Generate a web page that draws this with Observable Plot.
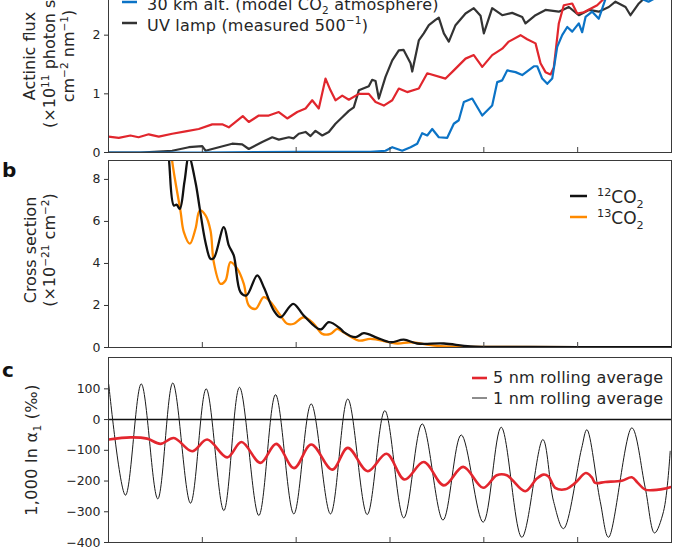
<!DOCTYPE html>
<html>
<head>
<meta charset="utf-8">
<script src="https://cdn.jsdelivr.net/npm/d3@7"></script>
<script src="https://cdn.jsdelivr.net/npm/@observablehq/plot@0.6"></script>
<style>
  body { margin: 0; background: #fff; }
  #fig { position: relative; width: 685px; height: 550px; overflow: hidden; background: #fff; }
  #fig svg { position: absolute; left: 0; }
</style>
</head>
<body>
<div id="fig"></div>
<script>
// ---------- shared x (wavelength, nm) ----------
const xDomain = [170, 230];
const xTicks = [180, 190, 200, 210, 220];

// ---------- panel a: actinic flux (x10^11 photon s^-1 cm^-2 nm^-1) ----------
const fluxTicks = [0, 1, 2];
const surfaceNm = [170.0, 171.1, 172.34, 173.2, 174.29, 175.36, 176.79, 178.21, 179.62, 181.05, 182.12, 182.82, 184.31, 184.95, 186.02, 187.08, 188.15, 189.05, 190.11, 191.0, 191.71, 192.41, 193.13, 193.66, 194.19, 194.91, 195.61, 196.68, 197.74, 198.46, 199.34, 200.24, 200.94, 201.83, 203.07, 203.97, 205.92, 206.8, 208.05, 208.93, 209.83, 210.89, 211.96, 212.66, 213.91, 214.62, 215.51, 216.04, 216.57, 217.11, 217.46, 217.99, 218.52, 219.42, 219.95, 220.66, 222.08, 222.79, 223.71, 225.63, 227.76, 230];
const surfaceFlux = [0.27, 0.25, 0.29, 0.26, 0.31, 0.27, 0.32, 0.36, 0.40, 0.48, 0.48, 0.43, 0.62, 0.52, 0.63, 0.63, 0.69, 0.58, 0.69, 0.75, 0.89, 0.75, 1.26, 1.06, 0.89, 0.97, 0.90, 1.00, 1.00, 0.86, 0.80, 0.89, 1.09, 1.03, 1.09, 1.35, 1.26, 1.40, 1.60, 1.66, 1.46, 1.66, 1.77, 1.89, 2.00, 1.93, 1.86, 1.52, 1.37, 1.33, 1.45, 2.20, 2.51, 2.54, 2.37, 2.39, 2.51, 2.62, 2.75, 2.85, 2.92, 2.97];
const km30Nm = [170, 179.8, 190.46, 197.92, 199.52, 200.24, 201.3, 202.19, 202.9, 203.43, 203.97, 204.5, 205.2, 206.1, 206.8, 207.33, 207.87, 208.76, 209.83, 210.89, 211.43, 211.96, 212.49, 213.38, 214.09, 215.33, 215.69, 216.22, 216.76, 217.29, 217.82, 218.35, 218.89, 219.42, 220.12, 220.48, 220.84, 221.55, 222.25, 222.97, 224.03, 225.63, 227.55, 228.83, 230];
const km30Flux = [0, 0, 0.01, 0.01, 0.03, 0.09, 0.03, 0.09, 0.15, 0.33, 0.29, 0.40, 0.26, 0.25, 0.49, 0.55, 0.86, 0.92, 0.63, 0.80, 1.20, 1.23, 1.40, 1.37, 1.32, 1.47, 1.47, 1.26, 1.17, 1.26, 1.80, 2.00, 2.14, 2.06, 2.20, 2.05, 2.31, 2.40, 2.28, 2.62, 2.75, 2.70, 2.57, 2.68, 2.78];
const lampNm = [170, 173.41, 176.79, 178.56, 179.99, 180.34, 181.76, 183.18, 184.25, 184.95, 186.38, 187.45, 188.15, 189.22, 189.72, 190.28, 191.0, 191.53, 192.06, 192.78, 193.48, 194.19, 194.91, 195.61, 196.14, 196.68, 197.74, 198.1, 198.46, 198.81, 199.52, 200.24, 200.94, 201.44, 202.19, 202.37, 203.07, 203.6, 204.14, 204.85, 205.2, 205.74, 206.27, 206.98, 208.05, 208.93, 209.65, 210.0, 210.89, 211.96, 213.02, 214.09, 214.44, 215.51, 216.57, 217.99, 219.06, 220.12, 221.19, 222.25, 223.32, 224.03, 225.1, 225.63, 226.52, 227.05, 228.3, 230];
const lampFlux = [0, 0, 0.03, 0.09, 0.11, 0.03, 0.09, 0.15, 0.14, 0.06, 0.18, 0.26, 0.22, 0.26, 0.24, 0.32, 0.35, 0.28, 0.37, 0.29, 0.35, 0.49, 0.60, 0.71, 0.77, 1.06, 1.13, 1.24, 1.22, 0.92, 1.29, 1.57, 1.74, 1.75, 1.52, 1.38, 1.91, 2.03, 2.17, 2.26, 2.30, 2.03, 1.89, 2.17, 2.37, 2.46, 2.33, 2.03, 2.46, 2.34, 2.38, 2.31, 2.20, 2.34, 2.43, 2.40, 2.48, 2.34, 2.43, 2.40, 2.48, 2.57, 2.48, 2.34, 2.54, 2.62, 2.70, 2.80];

// ---------- panel b: cross section (x10^-21 cm^-2) ----------
const sigmaTicks = [0, 2, 4, 6, 8];
const co12Nm = [175.9, 176.43, 176.96, 177.25, 177.6, 178.1, 178.56, 179.27, 179.73, 180.34, 180.87, 181.22, 182.29, 182.82, 183.35, 184.07, 184.71, 185.85, 186.55, 187.62, 188.33, 189.68, 190.81, 192.59, 193.48, 194.73, 195.08, 196.32, 197.21, 198.64, 200.05, 201.47, 202.9, 205.74, 208.58, 214.98, 222.44, 230];
const co12Sigma = [11, 9.0, 6.76, 6.8, 6.6, 7.9, 9.1, 7.87, 6.6, 5.0, 4.22, 4.25, 5.73, 4.86, 4.38, 2.63, 2.48, 3.43, 2.87, 1.76, 1.44, 2.08, 1.52, 0.86, 1.21, 0.89, 0.73, 0.49, 0.68, 0.46, 0.25, 0.37, 0.19, 0.19, 0.05, 0.03, 0.02, 0.02];
const co13Nm = [176.43, 176.75, 177.67, 178.03, 178.67, 179.27, 179.73, 180.34, 180.87, 181.22, 181.94, 182.47, 183.0, 183.72, 184.42, 184.95, 185.67, 186.55, 187.27, 188.33, 189.05, 189.75, 190.81, 191.88, 192.78, 193.66, 194.37, 194.73, 196.68, 197.92, 200.77, 202.19, 205.03, 211.78, 230];
const co13Sigma = [11, 9.0, 6.5, 5.49, 4.94, 5.65, 6.52, 6.29, 5.57, 4.06, 3.03, 3.19, 4.06, 3.75, 3.03, 2.0, 1.84, 2.40, 2.16, 1.52, 1.13, 1.13, 1.44, 1.13, 0.65, 0.65, 0.89, 0.81, 0.33, 0.41, 0.19, 0.25, 0.08, 0.03, 0.02];

// ---------- panel c: 1,000 ln alpha1 (permil) ----------
const alphaTicks = [-400, -300, -200, -100, 0, 100];
const avg5Nm = [170.03, 172.34, 174.12, 175.54, 176.96, 178.92, 180.52, 182.65, 184.17, 186.20, 187.87, 189.77, 191.60, 193.84, 195.50, 197.63, 199.63, 201.55, 203.60, 205.74, 207.80, 209.93, 211.38, 212.45, 212.98, 214.41, 215.65, 216.36, 216.89, 217.61, 218.67, 219.74, 220.87, 221.51, 221.87, 222.94, 224.71, 225.77, 226.41, 227.20, 228.62, 229.86];
const avg5Alpha = [-65, -58, -62, -79, -60, -103, -65, -123, -73, -141, -79, -158, -81, -163, -92, -168, -111, -195, -138, -214, -154, -222, -181, -181, -195, -233, -192, -179, -185, -222, -227, -206, -174, -188, -206, -203, -199, -188, -206, -228, -228, -220];
const avg1Nm = [170.03, 171.81, 173.49, 175.25, 176.85, 178.74, 180.41, 182.29, 183.96, 186.02, 187.80, 189.75, 191.60, 193.66, 195.50, 197.57, 199.45, 201.47, 203.43, 205.65, 207.59, 209.93, 211.85, 214.05, 216.29, 217.43, 218.49, 220.41, 220.98, 222.40, 223.29, 225.77, 227.20, 228.19, 229.15, 229.86];
const avg1Alpha = [114, -246, 116, -258, 119, -272, 100, -296, 105, -312, 81, -307, 51, -307, 67, -309, 29, -320, -14, -327, -50, -334, -25, -383, -65, -266, -355, -95, -33, -266, -383, -27, -222, -369, -299, -103];

// ---------- styling ----------
const FONT = "'DejaVu Sans', sans-serif";
const INK = "#262626";
const fmt = d => d < 0 ? "\u2212" + Math.abs(d) : String(d);

function panel({height, marginTop, marginBottom, yDomain, yTicks, marks}) {
  const innerH = height - marginTop - marginBottom;
  return Plot.plot({
    width: 685, height, marginLeft: 108, marginRight: 14, marginTop, marginBottom,
    style: {background: "transparent", fontFamily: FONT, fontSize: "12.5px", color: INK, overflow: "visible"},
    x: {domain: xDomain, axis: null},
    y: {domain: yDomain},
    marks: [
      Plot.axisY({ticks: yTicks, tickSize: 4, tickPadding: 4, tickFormat: fmt, label: null, fontSize: 12.5, stroke: "#333"}),
      ...marks,
      Plot.tickX(xTicks, {x: d => d, insetTop: innerH - 5, stroke: "#444", strokeWidth: 1}),
      Plot.frame({stroke: "#3a3a3a", strokeWidth: 1})
    ]
  });
}

function addText(svg, x, y, parts, {size = 16, anchor = "start", rotate = false, weight = "normal", ls = 0, fill = INK} = {}) {
  const t = d3.select(svg).append("text")
    .attr("font-family", FONT).attr("font-size", size).attr("fill", fill)
    .attr("text-anchor", anchor).attr("font-weight", weight).attr("letter-spacing", ls);
  if (rotate) t.attr("transform", `translate(${x},${y}) rotate(-90)`);
  else t.attr("x", x).attr("y", y);
  let shift = 0;
  for (const p of parts) {
    const [s, kind] = typeof p === "string" ? [p, null] : p;
    const target = kind === "sup" ? -0.4 * size : kind === "sub" ? 0.28 * size : 0;
    t.append("tspan").attr("dy", target - shift).attr("font-size", kind ? size * 0.66 : size).text(s);
    shift = target;
  }
  return t;
}
function addSwatch(svg, x1, x2, y, color, w) {
  d3.select(svg).append("line").attr("x1", x1).attr("x2", x2).attr("y1", y).attr("y2", y)
    .attr("stroke", color).attr("stroke-width", w);
}

const fig = document.getElementById("fig");

// ---------- panel a (its top lies above the visible page, as in the reference) ----------
const RED = "#e1262d", BLUE = "#0b73c6", GREY = "#333333";
const svgA = panel({
  height: 190, marginTop: 6, marginBottom: 8, yDomain: [0, 3.0], yTicks: fluxTicks,
  marks: [
    Plot.line(lampFlux, {x: lampNm, y: lampFlux, stroke: GREY, strokeWidth: 2.2, clip: true}),
    Plot.line(surfaceFlux, {x: surfaceNm, y: surfaceFlux, stroke: RED, strokeWidth: 2.2, clip: true}),
    Plot.line(km30Flux, {x: km30Nm, y: km30Flux, stroke: BLUE, strokeWidth: 2.2, clip: true})
  ]
});
svgA.style.top = "-30px";
fig.appendChild(svgA);
addText(svgA, 35, 86, ["Actinic flux"], {rotate: true, anchor: "middle"});
addText(svgA, 55, 86, ["(\u00d710", ["11", "sup"], " photon s", ["\u22121", "sup"]], {rotate: true, anchor: "middle"});
addText(svgA, 74, 86, ["cm", ["\u22122", "sup"], " nm", ["\u22121", "sup"], ")"], {rotate: true, anchor: "middle"});
addSwatch(svgA, 122, 137, 32, BLUE, 2.5);
addText(svgA, 147, 39.7, ["30 km alt. (model CO", ["2", "sub"], " atmosphere)"], {size: 16, ls: 0.2});
addSwatch(svgA, 122, 137, 53, GREY, 2.5);
addText(svgA, 147, 60.7, ["UV lamp (measured 500", ["\u22121", "sup"], ")"], {size: 16, ls: 0.2});

// ---------- panel b ----------
const BLACK = "#111111", ORANGE = "#ff8a00";
const svgB = panel({
  height: 200, marginTop: 8, marginBottom: 5, yDomain: [0, 8.9], yTicks: sigmaTicks,
  marks: [
    Plot.line(co13Sigma, {x: co13Nm, y: co13Sigma, stroke: ORANGE, strokeWidth: 2.3, curve: "catmull-rom", clip: true}),
    Plot.line(co12Sigma, {x: co12Nm, y: co12Sigma, stroke: BLACK, strokeWidth: 2.3, curve: "catmull-rom", clip: true})
  ]
});
svgB.style.top = "152px";
fig.appendChild(svgB);
addText(svgB, 2, 25, ["b"], {size: 20, weight: "bold", fill: "#111"});
addText(svgB, 36, 98, ["Cross section"], {rotate: true, anchor: "middle"});
addText(svgB, 55, 98, ["(\u00d710", ["\u221221", "sup"], " cm", ["\u22122", "sup"], ")"], {rotate: true, anchor: "middle"});
addSwatch(svgB, 570, 587, 44, BLACK, 2.5);
addText(svgB, 597, 51, [["12", "sup"], "CO", ["2", "sub"]], {size: 17});
addSwatch(svgB, 570, 587, 65, ORANGE, 2.5);
addText(svgB, 597, 72, [["13", "sup"], "CO", ["2", "sub"]], {size: 17});

// ---------- panel c ----------
const RED_C = "#e3262e";
const svgC = panel({
  height: 201, marginTop: 8, marginBottom: 8, yDomain: [-400, 202], yTicks: alphaTicks,
  marks: [
    Plot.ruleY([0], {stroke: "#111", strokeWidth: 1.5}),
    Plot.line(avg1Alpha, {x: avg1Nm, y: avg1Alpha, stroke: "#1a1a1a", strokeWidth: 1, curve: "catmull-rom", clip: true}),
    Plot.line(avg5Alpha, {x: avg5Nm, y: avg5Alpha, stroke: RED_C, strokeWidth: 2.6, curve: "catmull-rom", clip: true})
  ]
});
svgC.style.top = "349px";
fig.appendChild(svgC);
addText(svgC, 2, 28, ["c"], {size: 20, weight: "bold", fill: "#111"});
addText(svgC, 37, 101, ["1,000 ln \u03b1", ["1", "sub"], " (\u2030)"], {rotate: true, anchor: "middle", ls: 0.3});
addSwatch(svgC, 472, 487, 29, RED_C, 2.6);
addText(svgC, 493, 34.3, ["5 nm rolling average"], {size: 16, ls: 0.2});
addSwatch(svgC, 472, 487, 49, "#1a1a1a", 1);
addText(svgC, 493, 55, ["1 nm rolling average"], {size: 16, ls: 0.2});
</script>
</body>
</html>
